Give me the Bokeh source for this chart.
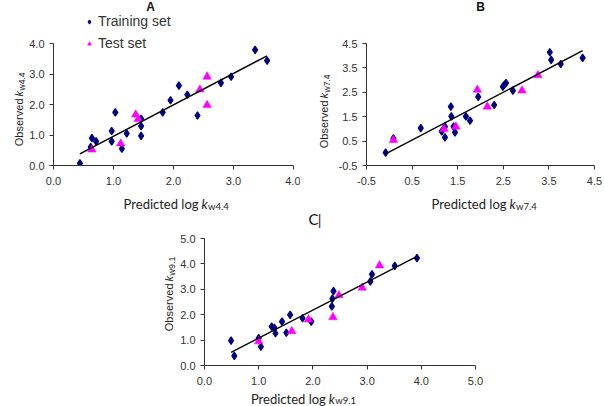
import numpy as np
from bokeh.plotting import figure
from bokeh.models import (Range1d, FixedTicker, NumeralTickFormatter, Label,
                          Legend, LegendItem, Spacer, GridBox)
from bokeh.layouts import row, column
from bokeh.embed import file_html
from bokeh.resources import INLINE

# ---------------- data ----------------
# Panel A (pH 4.4)
a_train_pred = [0.44, 0.64, 0.71, 0.62, 0.97, 0.97, 1.03, 1.22, 1.14, 1.46, 1.46,
                1.46, 1.82, 1.95, 2.09, 2.23, 2.40, 2.79, 2.96, 3.36, 3.56]
a_train_obs = [0.07, 0.90, 0.79, 0.60, 1.13, 0.79, 1.74, 1.05, 0.55, 1.53, 1.29,
               0.97, 1.74, 2.14, 2.62, 2.32, 1.64, 2.71, 2.91, 3.79, 3.44]
a_test_pred = [0.64, 1.12, 1.37, 1.41, 2.44, 2.56, 2.56]
a_test_obs = [0.52, 0.72, 1.67, 1.52, 2.49, 2.91, 1.98]
a_fit = [1.03, -0.07]          # slope, intercept of trend line
a_ticks = [0.0, 1.0, 2.0, 3.0, 4.0]

# Panel B (pH 7.4)
b_train_pred = [-0.08, 0.09, 0.69, 1.15, 1.22, 1.22, 1.35, 1.36, 1.41, 1.44, 1.68,
                1.77, 1.95, 2.30, 2.49, 2.53, 2.56, 2.71, 3.52, 3.55, 3.76, 4.24]
b_train_obs = [0.03, 0.61, 1.03, 0.90, 1.09, 0.65, 1.91, 1.51, 1.09, 0.86, 1.51,
               1.34, 2.31, 1.98, 2.73, 2.82, 2.88, 2.57, 4.14, 3.83, 3.66, 3.91]
b_test_pred = [0.09, 1.20, 1.46, 1.93, 2.15, 2.91, 3.26]
b_test_obs = [0.54, 0.99, 1.09, 2.60, 1.91, 2.57, 3.20]
b_fit = [0.98, 0.05]
b_ticks = [-0.5, 0.5, 1.5, 2.5, 3.5, 4.5]

# Panel C (pH 9.1)
c_train_pred = [0.49, 0.55, 1.00, 1.04, 1.24, 1.29, 1.31, 1.43, 1.51, 1.58, 1.81,
                1.97, 2.35, 2.36, 2.38, 3.06, 3.09, 3.51, 3.92]
c_train_obs = [0.98, 0.38, 1.08, 0.74, 1.53, 1.48, 1.27, 1.73, 1.29, 1.99, 1.86,
               1.73, 2.33, 2.63, 2.93, 3.31, 3.59, 3.92, 4.23]
c_test_pred = [1.00, 1.61, 1.92, 2.37, 2.48, 2.91, 3.23]
c_test_obs = [0.95, 1.35, 1.81, 1.90, 2.76, 3.06, 3.94]
c_fit = [1.10, -0.02]
c_ticks = [0.0, 1.0, 2.0, 3.0, 4.0, 5.0]

legend_labels = ["Training set", "Test set"]

TRAIN_COLOR = "#000080"
TEST_COLOR = "#FF00FF"
AX_COLOR = "#333333"
TXT_COLOR = "#222222"
ARIAL = "Liberation Sans"
CALIBRI = "Lato"

PAGE_W, PAGE_H = 604, 406

TRAIN_STYLE = dict(marker="diamond", size=7.5,
                   fill_color=TRAIN_COLOR, line_color=TRAIN_COLOR, line_width=1.2)
TEST_STYLE = dict(marker="triangle", size=8.5,
                  fill_color=TEST_COLOR, line_color=TEST_COLOR, line_width=0.5)


def make_panel(xr, yr, ticks, left, top, fw, fh, width, height):
    p = figure(width=width, height=height, title=None,
               x_range=Range1d(*xr), y_range=Range1d(*yr),
               output_backend="svg", toolbar_location=None,
               min_border_left=left, min_border_top=top,
               min_border_right=width - left - fw,
               min_border_bottom=height - top - fh)
    p.grid.visible = False
    p.outline_line_color = None
    p.background_fill_color = "white"
    p.border_fill_color = "white"
    for ax, standoff in ((p.xaxis, 7), (p.yaxis, 5)):
        ax.ticker = FixedTicker(ticks=ticks)
        ax.formatter = NumeralTickFormatter(format="0.0")
        ax.major_tick_in = 0
        ax.major_tick_out = 4
        ax.minor_tick_in = 0
        ax.minor_tick_out = 0
        ax.axis_line_color = AX_COLOR
        ax.major_tick_line_color = AX_COLOR
        ax.major_label_text_font = ARIAL
        ax.major_label_text_font_size = "11px"
        ax.major_label_text_color = AX_COLOR
        ax.major_label_standoff = standoff
    return p


def draw_points(p, tr_x, tr_y, te_x, te_y, fit):
    p.scatter(tr_x, tr_y, **TRAIN_STYLE)
    p.scatter(te_x, te_y, **TEST_STYLE)
    x0, x1 = min(tr_x), max(tr_x)
    p.line([x0, x1], [fit[0] * x0 + fit[1], fit[0] * x1 + fit[1]],
           line_color="black", line_width=1.4)


# ---------------- panels ----------------
pA = make_panel((0, 4), (0, 4), a_ticks, 53, 42, 240, 123, 300, 210)
draw_points(pA, a_train_pred, a_train_obs, a_test_pred, a_test_obs, a_fit)

pB = make_panel((-0.5, 4.5), (-0.5, 4.5), b_ticks, 66, 43, 228, 122, 304, 210)
draw_points(pB, b_train_pred, b_train_obs, b_test_pred, b_test_obs, b_fit)

pC = make_panel((0, 5), (0, 5), c_ticks, 54, 28, 271, 127, 345, 196)
draw_points(pC, c_train_pred, c_train_obs, c_test_pred, c_test_obs, c_fit)

main = column(row(pA, pB), row(Spacer(width=150, height=196), pC))

# ---------------- text overlay (page pixel coordinates) ----------------
ov = figure(width=PAGE_W, height=PAGE_H, title=None,
            x_range=Range1d(0, PAGE_W), y_range=Range1d(PAGE_H, 0),
            x_axis_type=None, y_axis_type=None, min_border=0,
            output_backend="svg", toolbar_location=None)
ov.outline_line_color = None
ov.background_fill_color = None
ov.border_fill_color = None

# legend of panel A (key renderers hold one undrawn NaN point, only for the marker styles)
key_tr = ov.scatter([np.nan], [np.nan], **TRAIN_STYLE)
key_te = ov.scatter([np.nan], [np.nan], **TEST_STYLE)
legend = Legend(items=[LegendItem(label=legend_labels[0], renderers=[key_tr]),
                       LegendItem(label=legend_labels[1], renderers=[key_te])],
                location=(84, 354.5), padding=0, margin=0, spacing=5,
                glyph_width=10, glyph_height=17, label_height=17, label_standoff=4,
                border_line_color=None, background_fill_alpha=0,
                label_text_font=ARIAL, label_text_font_size="14px",
                label_text_color="#333333", label_text_baseline="middle")
ov.add_layout(legend)


def add_text(x, y, text, **kw):
    ov.add_layout(Label(x=x, y=y, text=text, **kw))


def y_label(px, py, sub, size="11px", sub_size="8.5px", k_w=6):
    add_text(px, py, "Observed", angle=np.pi / 2, text_align="right",
             text_baseline="alphabetic", text_font=ARIAL, text_font_size=size,
             text_color=TXT_COLOR, y_offset=-1)
    add_text(px, py, "k", angle=np.pi / 2, text_align="left",
             text_baseline="alphabetic", text_font=ARIAL, text_font_size=size,
             text_font_style="italic", text_color=TXT_COLOR, y_offset=1)
    add_text(px, py, sub, angle=np.pi / 2, text_align="left",
             text_baseline="alphabetic", text_font=ARIAL, text_font_size=sub_size,
             text_color=TXT_COLOR, y_offset=1 + k_w, x_offset=2.5)


def x_label(px, py, sub, size="13px", sub_size="9.5px", k_w=6.5, sub_drop=3):
    add_text(px, py, "Predicted log", text_align="right",
             text_baseline="alphabetic", text_font=CALIBRI, text_font_size=size,
             text_color=TXT_COLOR, x_offset=-3)
    add_text(px, py, "k", text_align="left",
             text_baseline="alphabetic", text_font=CALIBRI, text_font_size=size,
             text_font_style="italic", text_color=TXT_COLOR)
    add_text(px, py, sub, text_align="left",
             text_baseline="alphabetic", text_font=CALIBRI, text_font_size=sub_size,
             text_color=TXT_COLOR, x_offset=k_w, y_offset=-sub_drop)


add_text(150, 6, "A", text_align="center", text_baseline="middle",
         text_font=ARIAL, text_font_size="12px", text_font_style="bold", text_color="#111111")
add_text(480, 6, "B", text_align="center", text_baseline="middle",
         text_font=ARIAL, text_font_size="12px", text_font_style="bold", text_color="#111111")
add_text(313, 218.5, "C", text_align="center", text_baseline="middle",
         text_font=CALIBRI, text_font_size="15px", text_color="#111111")
add_text(319, 219, "|", text_align="center", text_baseline="middle",
         text_font=ARIAL, text_font_size="14px", text_color="#333333")

y_label(18.5, 97, "w4.4")
x_label(201, 203, "w4.4")
y_label(323.5, 99, "w7.4")
x_label(509, 203, "w7.4")
y_label(168.5, 282, "w9.1", sub_size="9px")
x_label(328.3, 398, "w9.1", sub_drop=2)

layout = GridBox(children=[(main, 0, 0), (ov, 0, 0)])
open("out.html", "w").write(file_html(layout, INLINE))
